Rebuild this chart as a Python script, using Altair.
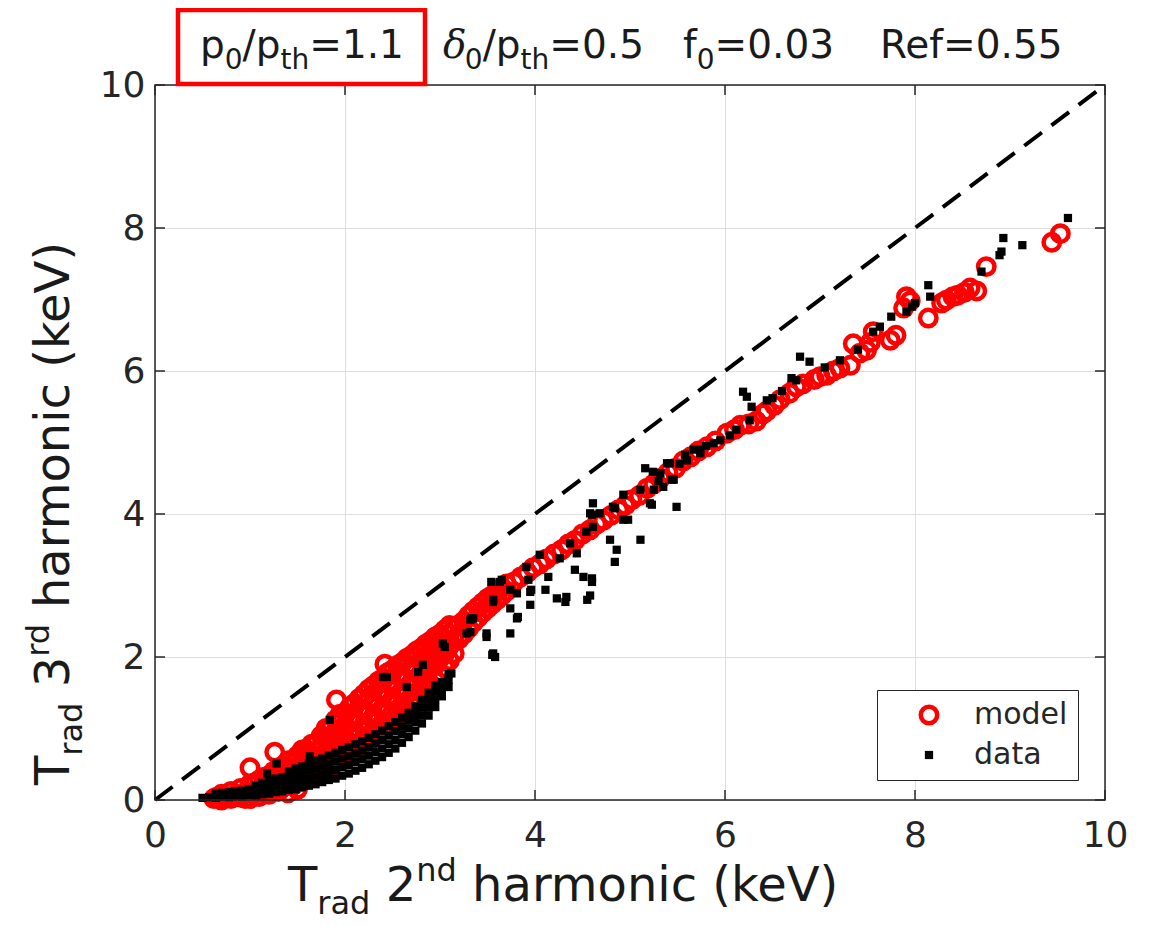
import altair as alt
import pandas as pd

INK = "#262626"
ticks = [0, 2, 4, 6, 8, 10]
diag_x = [0, 10]
diag_y = [0, 10]
series_names = ["model", "data"]

model_pts = [
    (0.62, 0.02), (0.65, 0.04), (0.70, 0.00), (0.70, 0.08), (0.75, 0.05), (0.80, 0.02), (0.80, 0.12),
    (0.85, 0.08), (0.90, 0.04), (0.90, 0.16), (0.95, 0.02), (0.95, 0.10),
    (1.00, 0.02), (1.00, 0.10), (1.00, 0.22), (1.00, 0.45), (1.05, 0.12), (1.05, 0.24),
    (1.10, 0.05), (1.10, 0.15), (1.10, 0.28), (1.15, 0.10), (1.15, 0.22), (1.15, 0.32),
    (1.20, 0.08), (1.20, 0.20), (1.20, 0.34), (1.25, 0.14), (1.25, 0.28), (1.25, 0.40), (1.26, 0.67),
    (1.30, 0.12), (1.30, 0.26), (1.30, 0.44), (1.35, 0.18), (1.35, 0.32), (1.35, 0.48),
    (1.40, 0.10), (1.40, 0.25), (1.40, 0.40), (1.40, 0.55), (1.45, 0.20), (1.45, 0.36), (1.45, 0.52),
    (1.50, 0.15), (1.50, 0.30), (1.50, 0.46), (1.50, 0.62),
    (1.55, 0.26), (1.55, 0.42), (1.55, 0.58), (1.55, 0.70),
    (1.60, 0.35), (1.60, 0.52), (1.60, 0.70),
    (1.65, 0.32), (1.65, 0.48), (1.65, 0.64), (1.65, 0.78),
    (1.70, 0.42), (1.70, 0.60), (1.70, 0.80),
    (1.75, 0.40), (1.75, 0.56), (1.75, 0.72), (1.75, 0.90),
    (1.80, 0.48), (1.80, 0.68), (1.80, 0.88), (1.80, 1.00),
    (1.85, 0.46), (1.85, 0.64), (1.85, 0.82), (1.85, 1.00),
    (1.90, 0.55), (1.90, 0.75), (1.90, 0.95), (1.90, 1.12), (1.91, 1.40),
    (1.95, 0.55), (1.95, 0.72), (1.95, 0.90), (1.95, 1.08), (1.95, 1.20),
    (2.00, 0.62), (2.00, 0.82), (2.00, 1.02), (2.00, 1.22),
    (2.05, 0.62), (2.05, 0.80), (2.05, 0.98), (2.05, 1.16), (2.05, 1.30),
    (2.10, 0.70), (2.10, 0.92), (2.10, 1.14), (2.10, 1.35),
    (2.15, 0.72), (2.15, 0.90), (2.15, 1.08), (2.15, 1.28), (2.15, 1.42),
    (2.20, 0.80), (2.20, 1.02), (2.20, 1.25), (2.20, 1.48),
    (2.25, 0.82), (2.25, 1.00), (2.25, 1.20), (2.25, 1.40), (2.25, 1.55),
    (2.30, 0.90), (2.30, 1.12), (2.30, 1.36), (2.30, 1.60),
    (2.35, 0.92), (2.35, 1.12), (2.35, 1.32), (2.35, 1.52), (2.35, 1.66),
    (2.40, 1.00), (2.40, 1.24), (2.40, 1.48), (2.40, 1.70), (2.42, 1.90),
    (2.45, 1.04), (2.45, 1.24), (2.45, 1.44), (2.45, 1.64), (2.45, 1.78),
    (2.50, 1.12), (2.50, 1.36), (2.50, 1.60), (2.50, 1.82),
    (2.55, 1.16), (2.55, 1.36), (2.55, 1.56), (2.55, 1.76), (2.55, 1.88),
    (2.60, 1.25), (2.60, 1.48), (2.60, 1.70), (2.60, 1.92),
    (2.65, 1.28), (2.65, 1.48), (2.65, 1.68), (2.65, 1.88), (2.65, 1.98),
    (2.70, 1.38), (2.70, 1.60), (2.70, 1.82), (2.70, 2.02),
    (2.75, 1.42), (2.75, 1.62), (2.75, 1.82), (2.75, 2.00), (2.75, 2.08),
    (2.80, 1.50), (2.80, 1.72), (2.80, 1.94), (2.80, 2.12),
    (2.85, 1.55), (2.85, 1.75), (2.85, 1.95), (2.85, 2.12), (2.85, 2.18),
    (2.90, 1.62), (2.90, 1.85), (2.90, 2.05), (2.90, 2.22),
    (2.95, 1.68), (2.95, 1.88), (2.95, 2.06), (2.95, 2.22), (2.95, 2.28),
    (3.00, 1.76), (3.00, 1.98), (3.00, 2.16), (3.00, 2.32),
    (3.05, 1.85), (3.05, 2.05), (3.05, 2.22), (3.05, 2.38),
    (3.10, 1.95), (3.10, 2.15), (3.10, 2.32), (3.10, 2.44),
    (3.15, 2.05), (3.15, 2.25), (3.15, 2.42),
    (3.20, 2.25), (3.20, 2.45), (3.25, 2.32), (3.25, 2.50), (3.30, 2.40), (3.30, 2.58),
    (3.35, 2.48), (3.35, 2.64), (3.40, 2.55), (3.40, 2.70), (3.45, 2.62), (3.45, 2.76),
    (3.50, 2.68), (3.50, 2.82), (3.55, 2.74), (3.55, 2.86), (3.60, 2.80), (3.60, 2.92),
    (3.65, 2.86), (3.65, 2.97), (3.70, 2.92), (3.70, 3.02),
    (3.78, 3.05), (3.85, 3.12), (3.92, 3.18), (3.98, 3.25), (4.05, 3.30), (4.12, 3.37), (4.20, 3.44),
    (4.28, 3.50), (4.35, 3.58), (4.42, 3.63), (4.50, 3.72), (4.58, 3.78), (4.65, 3.86), (4.72, 3.91),
    (4.80, 3.98), (4.88, 4.06), (4.95, 4.12), (5.02, 4.20), (5.10, 4.26), (5.18, 4.36), (5.25, 4.42),
    (5.32, 4.50), (5.40, 4.58), (5.48, 4.64), (5.56, 4.74), (5.64, 4.80), (5.72, 4.88), (5.81, 4.94),
    (5.90, 5.02), (6.02, 5.13), (6.10, 5.18), (6.16, 5.24), (6.25, 5.26), (6.33, 5.30), (6.40, 5.40),
    (6.44, 5.44), (6.52, 5.52), (6.58, 5.60), (6.68, 5.69), (6.75, 5.78), (6.82, 5.82), (6.94, 5.88),
    (7.00, 5.92), (7.07, 5.94), (7.14, 6.00), (7.21, 6.04), (7.32, 6.08), (7.35, 6.38), (7.42, 6.25),
    (7.49, 6.29), (7.53, 6.40), (7.56, 6.55), (7.74, 6.43), (7.80, 6.50), (7.88, 6.88), (7.91, 7.04),
    (7.95, 6.98), (8.14, 6.74), (8.28, 6.95), (8.33, 6.99), (8.40, 7.04), (8.45, 7.06), (8.52, 7.10),
    (8.58, 7.16), (8.65, 7.12), (8.75, 7.46), (9.44, 7.80), (9.53, 7.92),
]

data_band = [
    (0.50, 0.03), (0.57, 0.04), (0.64, 0.03), (0.64, 0.09), (0.71, 0.05), (0.71, 0.10), (0.78, 0.04),
    (0.78, 0.11), (0.85, 0.06), (0.85, 0.12), (0.92, 0.05), (0.92, 0.13), (0.99, 0.07), (0.99, 0.15),
    (1.06, 0.06), (1.06, 0.14), (1.06, 0.20), (1.13, 0.08), (1.13, 0.17), (1.13, 0.24),
    (1.20, 0.09), (1.20, 0.18), (1.20, 0.27), (1.27, 0.11), (1.27, 0.20), (1.27, 0.30),
    (1.34, 0.12), (1.34, 0.22), (1.34, 0.32),
    (1.41, 0.14), (1.41, 0.24), (1.41, 0.34), (1.41, 0.40),
    (1.48, 0.15), (1.48, 0.26), (1.48, 0.36), (1.48, 0.44),
    (1.55, 0.18), (1.55, 0.28), (1.55, 0.38), (1.55, 0.47),
    (1.62, 0.20), (1.62, 0.30), (1.62, 0.41), (1.62, 0.51),
    (1.69, 0.22), (1.69, 0.33), (1.69, 0.44), (1.69, 0.55),
    (1.76, 0.25), (1.76, 0.36), (1.76, 0.47), (1.76, 0.58),
    (1.83, 0.28), (1.83, 0.39), (1.83, 0.50), (1.83, 0.62),
    (1.90, 0.30), (1.90, 0.42), (1.90, 0.54), (1.90, 0.66),
    (1.97, 0.34), (1.97, 0.46), (1.97, 0.58), (1.97, 0.70),
    (2.04, 0.37), (2.04, 0.49), (2.04, 0.61), (2.04, 0.74),
    (2.11, 0.41), (2.11, 0.53), (2.11, 0.65), (2.11, 0.78),
    (2.18, 0.45), (2.18, 0.57), (2.18, 0.69), (2.18, 0.82),
    (2.25, 0.50), (2.25, 0.62), (2.25, 0.74), (2.25, 0.87),
    (2.32, 0.55), (2.32, 0.67), (2.32, 0.79), (2.32, 0.92),
    (2.39, 0.60), (2.39, 0.72), (2.39, 0.84), (2.39, 0.97),
    (2.46, 0.66), (2.46, 0.78), (2.46, 0.90), (2.46, 1.03),
    (2.53, 0.72), (2.53, 0.84), (2.53, 0.96), (2.53, 1.09),
    (2.60, 0.80), (2.60, 0.92), (2.60, 1.03), (2.60, 1.15),
    (2.67, 0.88), (2.67, 1.00), (2.67, 1.11), (2.67, 1.22),
    (2.74, 0.97), (2.74, 1.09), (2.74, 1.20), (2.74, 1.31),
    (2.81, 1.07), (2.81, 1.18), (2.81, 1.29), (2.81, 1.40),
    (2.88, 1.18), (2.88, 1.29), (2.88, 1.40), (2.88, 1.50),
    (2.95, 1.30), (2.95, 1.41), (2.95, 1.52), (2.95, 1.60),
    (3.02, 1.45), (3.02, 1.55), (3.02, 1.65),
    (3.09, 1.58), (3.09, 1.68), (3.09, 1.76),
]

data_scatter = [
    (1.18, 0.37), (1.28, 0.51), (1.63, 0.61), (1.84, 1.12), (2.40, 1.72), (2.44, 1.72), (2.65, 1.58),
    (2.77, 1.79), (2.82, 1.89), (3.03, 2.19), (3.05, 2.14), (3.12, 1.77), (3.32, 2.35), (3.35, 2.54),
    (3.32, 2.52), (3.49, 2.33), (3.56, 2.05), (3.56, 2.80), (3.28, 2.33), (3.33, 2.54), (3.49, 2.28),
    (3.74, 2.33), (3.81, 2.54), (3.55, 2.03), (3.58, 2.00), (3.54, 3.05), (3.63, 3.05), (3.65, 3.08),
    (3.74, 2.68), (3.56, 2.77), (3.74, 2.94), (3.81, 2.89), (3.82, 2.56), (3.91, 3.26), (3.93, 3.08),
    (3.95, 2.73), (3.95, 2.91), (3.96, 2.94), (4.05, 3.43), (4.11, 2.94), (4.14, 3.12), (4.23, 2.82),
    (4.26, 3.38), (4.32, 2.77), (4.33, 2.84), (4.37, 3.59), (4.42, 3.22), (4.44, 3.45), (4.51, 3.12),
    (4.54, 3.75), (4.55, 2.80), (4.58, 2.86), (4.58, 4.01), (4.60, 3.05), (4.60, 3.10), (4.60, 3.99),
    (4.61, 3.82), (4.61, 4.15), (4.68, 4.01), (4.79, 3.64), (4.82, 4.10), (4.84, 3.33), (4.84, 4.08),
    (4.86, 3.50), (4.93, 3.92), (4.93, 4.27), (4.98, 3.92), (5.11, 3.64), (5.11, 4.34), (5.16, 4.64),
    (5.21, 4.15), (5.23, 4.13), (5.24, 4.59), (5.25, 4.34), (5.30, 4.46), (5.32, 4.57), (5.35, 4.38),
    (5.39, 4.71), (5.42, 4.71), (5.44, 4.48), (5.46, 4.48), (5.49, 4.10), (5.52, 4.70), (5.58, 4.83),
    (5.60, 4.75), (5.67, 4.90), (5.74, 4.85), (5.74, 4.90), (5.80, 4.95), (5.88, 4.99), (5.95, 5.03),
    (6.05, 5.10), (6.12, 5.18), (6.19, 5.71), (6.23, 5.64), (6.26, 5.31), (6.28, 5.50), (6.44, 5.59),
    (6.50, 5.62), (6.60, 5.72), (6.70, 5.90), (6.75, 5.87), (6.79, 6.20), (6.89, 6.13), (7.05, 6.05),
    (7.21, 6.15), (7.40, 6.30), (7.56, 6.55), (7.63, 6.62), (7.75, 6.76), (7.91, 6.83), (7.97, 6.90),
    (8.00, 6.95), (8.14, 7.20), (8.16, 7.04), (8.70, 7.39), (8.89, 7.62), (8.91, 7.67), (8.93, 7.86),
    (9.13, 7.76), (9.61, 8.14),
]

# ---------------- tables ----------------
data_pts = data_band + data_scatter
pts = pd.DataFrame({
    "x": [p[0] for p in model_pts] + [p[0] for p in data_pts],
    "y": [p[1] for p in model_pts] + [p[1] for p in data_pts],
    "series": ["model"] * len(model_pts) + ["data"] * len(data_pts),
})
diag = pd.DataFrame({"x": diag_x, "y": diag_y})
tick_df = pd.DataFrame({"v": ticks})
one = pd.DataFrame({"k": [0]})

W_PLOT, H_PLOT = 950, 715
sc = alt.Scale(domain=[0, 10], nice=False, zero=False)
ax_x = alt.Axis(title=None, values=ticks, grid=True, ticks=False, domain=False,
                labelFont="DejaVu Sans", labelFontSize=36, labelColor=INK,
                labelPadding=18, labelFlush=False, labelOverlap=False,
                gridColor="#dedede", gridWidth=1)
ax_y = alt.Axis(title=None, values=ticks, grid=True, ticks=False, domain=False,
                labelFont="DejaVu Sans", labelFontSize=36, labelColor=INK,
                labelPadding=10, labelFlush=False, labelOverlap=False,
                gridColor="#dedede", gridWidth=1)


def X(f):
    return alt.X(f, type="quantitative", scale=sc, axis=ax_x)


def Y(f):
    return alt.Y(f, type="quantitative", scale=sc, axis=ax_y)


def leg():
    return alt.Legend(title=None, orient="none", legendX=722, legendY=605, padding=10,
                      strokeColor=INK, fillColor="white", labelFont="DejaVu Sans",
                      labelFontSize=30, labelColor=INK, symbolStrokeWidth=4.5,
                      symbolOffset=27, labelOffset=30, rowPadding=7)


line = alt.Chart(diag).mark_line(color="black", strokeDash=[22, 12], strokeWidth=4).encode(
    x=X("x"), y=Y("y"))

points = alt.Chart(pts).mark_point(filled=True, strokeWidth=4.5, opacity=1).encode(
    x=X("x"), y=Y("y"),
    shape=alt.Shape("series:N", scale=alt.Scale(domain=series_names, range=["circle", "square"]), legend=leg()),
    stroke=alt.Stroke("series:N", scale=alt.Scale(domain=series_names, range=["#ff0000", "#000000"]), legend=leg()),
    fill=alt.Fill("series:N", scale=alt.Scale(domain=series_names, range=["transparent", "#000000"]), legend=leg()),
    size=alt.Size("series:N", scale=alt.Scale(domain=series_names, range=[270, 14]), legend=leg()),
)

tick_layers = [
    alt.Chart(tick_df).mark_rule(color=INK, strokeWidth=1.5).encode(x=X("v"), y=alt.value(H_PLOT), y2=alt.value(H_PLOT - 10)),
    alt.Chart(tick_df).mark_rule(color=INK, strokeWidth=1.5).encode(x=X("v"), y=alt.value(0), y2=alt.value(10)),
    alt.Chart(tick_df).mark_rule(color=INK, strokeWidth=1.5).encode(y=Y("v"), x=alt.value(0), x2=alt.value(10)),
    alt.Chart(tick_df).mark_rule(color=INK, strokeWidth=1.5).encode(y=Y("v"), x=alt.value(W_PLOT), x2=alt.value(W_PLOT - 10)),
]

frame = alt.Chart(one).mark_rect(fillOpacity=0, stroke=INK, strokeWidth=1.5).encode(
    x=alt.value(0), x2=alt.value(W_PLOT), y=alt.value(0), y2=alt.value(H_PLOT))

red_box = alt.Chart(one).mark_rect(fillOpacity=0, stroke="#ff0000", strokeWidth=4.5).encode(
    x=alt.value(23), x2=alt.value(270), y=alt.value(-75), y2=alt.value(-1))

# ---------------- rich text (sub/superscripts) ----------------
W = {'T': .611, 'r': .411, 'a': .613, 'd': .635, ' ': .318, '2': .636, '3': .636, 'n': .634,
     'h': .634, 'm': .974, 'o': .612, 'i': .278, 'c': .550, '(': .390, 'k': .579, 'e': .615,
     'V': .684, ')': .390, 'p': .635, '0': .636, '/': .337, 't': .392, '=': .838, '1': .636,
     '.': .318, '5': .636, 'f': .352, 'R': .695, 'δ': .56}


def rich(pieces, start, base, M, S, vertical=False):
    out = []
    acc = 0.0
    for text, kind in pieces:
        size = S if kind in ("s", "u") else M
        w = sum(W.get(c, 0.6) for c in text) * size
        if kind != "g":
            shift = {"s": 0.28 * M, "u": -0.42 * M}.get(kind, 0)
            font = "DejaVu Serif" if kind == "d" else "DejaVu Sans"
            style = "italic" if kind == "d" else "normal"
            if vertical:
                px, py, ang = base + shift, start - acc, 270
            else:
                px, py, ang = start + acc, base + shift, 0
            out.append(alt.Chart(one).mark_text(
                text=text, font=font, fontStyle=style, fontSize=size, align="left",
                baseline="alphabetic", angle=ang, color="#1a1a1a").encode(
                x=alt.value(px), y=alt.value(py)))
        acc += w
    return out


TM, TS = 39, 28
title_layers = (
    rich([("p", "n"), ("0", "s"), ("/p", "n"), ("th", "s"), ("=1.1", "n")], 45, -27, TM, TS)
    + rich([("δ", "d"), ("0", "s"), ("/p", "n"), ("th", "s"), ("=0.5", "n")], 288, -27, TM, TS)
    + rich([("f", "n"), ("0", "s"), ("=0.03", "n")], 528, -27, TM, TS)
    + rich([("Ref=0.55", "n")], 725, -27, TM, TS)
)
AM, AS = 48, 32
xtitle_layers = rich([("T", "n"), ("rad", "s"), (" ", "g"), ("2", "n"), ("nd", "u"), (" ", "g"),
                      ("harmonic (keV)", "n")], 133, 816, AM, AS)
ytitle_layers = rich([("T", "n"), ("rad", "s"), (" ", "g"), ("3", "n"), ("rd", "u"), (" ", "g"),
                      ("harmonic (keV)", "n")], 700, -86, AM, AS, vertical=True)

chart = alt.layer(
    line, points, *tick_layers, frame, red_box, *title_layers, *xtitle_layers, *ytitle_layers
).properties(
    width=W_PLOT, height=H_PLOT,
    autosize=alt.AutoSizeParams(type="none"),
    padding={"left": 147, "top": 77, "right": 30, "bottom": 125},
).configure_view(stroke="transparent")

chart.save("out.html", embed_options={"renderer": "svg", "actions": False})
